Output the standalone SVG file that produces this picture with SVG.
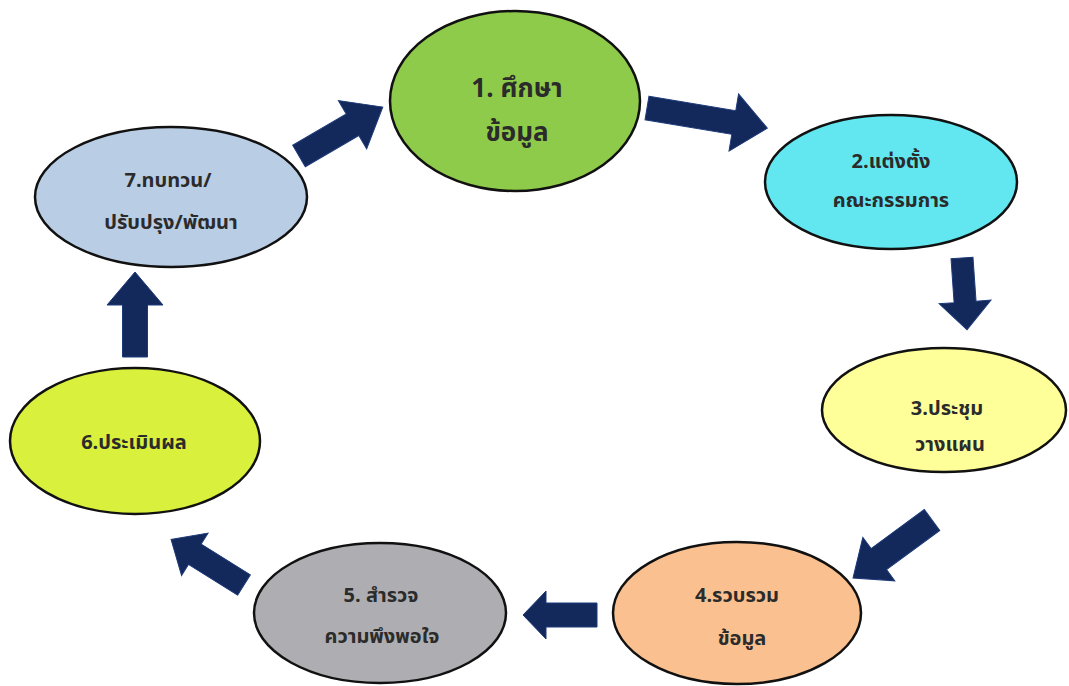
<svg xmlns="http://www.w3.org/2000/svg" width="1069" height="686" viewBox="0 0 1069 686">
<style>
.node ellipse{stroke:#111;stroke-width:2.5}
.node text{font-family:"Noto Sans Thai","Tahoma","DejaVu Sans","Liberation Sans",sans-serif;font-weight:bold;fill:#2b2b2b;text-anchor:middle;font-size:20px}
.node text.big{font-size:26px}
.arrow{fill:#13295c;stroke:#1d3a78;stroke-width:1}
</style>
<rect width="1069" height="686" fill="#ffffff"/>
<g id="connectors">
<polygon class="arrow" transform="translate(647,108) rotate(9.5)" points="0,-12 88,-12 88,-29 122,0 88,29 88,12 0,12"/>
<polygon class="arrow" transform="translate(962,258) rotate(86)" points="0,-11 44,-11 44,-26 72,0 44,26 44,11 0,11"/>
<polygon class="arrow" transform="translate(932,520) rotate(143.7)" points="0,-13 66,-13 66,-27 98,0 66,27 66,13 0,13"/>
<polygon class="arrow" transform="translate(597,615) rotate(180)" points="0,-12 51,-12 51,-24 74,0 51,24 51,12 0,12"/>
<polygon class="arrow" transform="translate(244,585) rotate(212)" points="0,-12 58,-12 58,-25 86,0 58,25 58,12 0,12"/>
<polygon class="arrow" transform="translate(135,357) rotate(-90)" points="0,-12.5 52,-12.5 52,-28 85,0 52,28 52,12.5 0,12.5"/>
<polygon class="arrow" transform="translate(299,156) rotate(-30.3)" points="0,-12.5 62,-12.5 62,-28 97,0 62,28 62,12.5 0,12.5"/>
</g>
<g id="node1" class="node">
<ellipse cx="515" cy="101" rx="125" ry="90" fill="#8fcb4a"/>
<text class="big" x="517" y="97">1. ศึกษา</text>
<text class="big" x="517" y="141">ข้อมูล</text>
</g>
<g id="node2" class="node">
<ellipse cx="891" cy="182" rx="126" ry="67" fill="#62e6ef"/>
<text x="891" y="168">2.แต่งตั้ง</text>
<text x="891" y="207">คณะกรรมการ</text>
</g>
<g id="node3" class="node">
<ellipse cx="944" cy="410" rx="122" ry="62" fill="#ffff99"/>
<text x="947" y="415">3.ประชุม</text>
<text x="950" y="451">วางแผน</text>
</g>
<g id="node4" class="node">
<ellipse cx="737" cy="613" rx="124" ry="71" fill="#fac090"/>
<text x="737" y="602">4.รวบรวม</text>
<text x="742" y="645">ข้อมูล</text>
</g>
<g id="node5" class="node">
<ellipse cx="380" cy="613" rx="126" ry="70" fill="#aeaeb2"/>
<text x="381" y="602">5. สำรวจ</text>
<text x="382" y="643">ความพึงพอใจ</text>
</g>
<g id="node6" class="node">
<ellipse cx="135" cy="441" rx="125" ry="73" fill="#d9f03c"/>
<text x="134" y="449">6.ประเมินผล</text>
</g>
<g id="node7" class="node">
<ellipse cx="171" cy="197" rx="136" ry="70" fill="#b9cde5"/>
<text x="168" y="187">7.ทบทวน/</text>
<text x="171" y="229">ปรับปรุง/พัฒนา</text>
</g>
</svg>
